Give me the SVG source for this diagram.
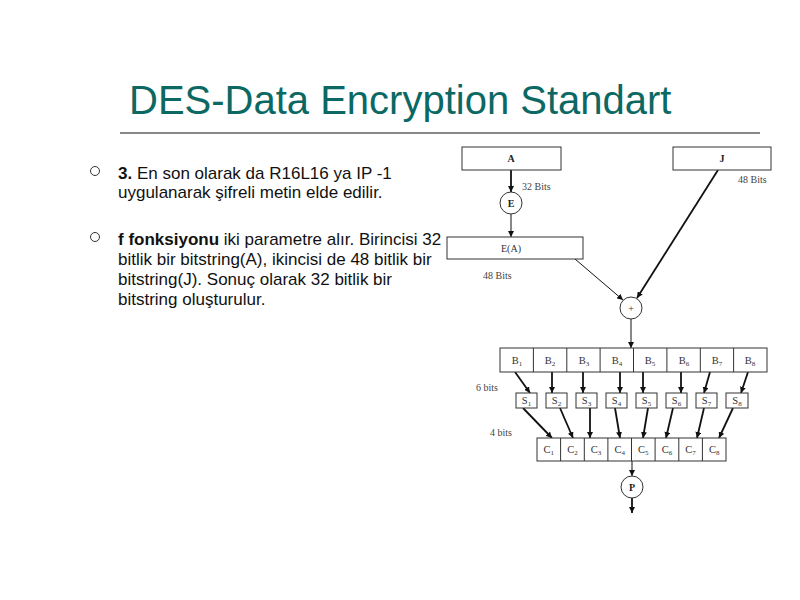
<svg xmlns="http://www.w3.org/2000/svg" width="800" height="600" viewBox="0 0 800 600">
<defs>
<style>
.title{font-family:"Liberation Sans",Arial,sans-serif;font-size:40px;fill:#0b6863}
.body{font-family:"Liberation Sans",Arial,sans-serif;font-size:17px;fill:#111}
.b{font-weight:bold}
.box{fill:#fff;stroke:#333;stroke-width:1}
.lbl{font-family:"Liberation Serif","Times New Roman",serif;font-size:10px;fill:#333;text-anchor:middle}
.lblb{font-family:"Liberation Serif","Times New Roman",serif;font-size:10px;fill:#222;text-anchor:middle;font-weight:bold}
.cell{font-family:"Liberation Serif","Times New Roman",serif;font-size:10.5px;fill:#333;text-anchor:middle}
.sub{font-size:7px}
.note{font-family:"Liberation Serif","Times New Roman",serif;font-size:10px;fill:#444}
.c{stroke:#111;fill:none;marker-end:url(#ah)}
.t{stroke-width:1}
.k{stroke-width:1.8}
</style>
<marker id="ah" viewBox="0 0 10 10" refX="10" refY="5" markerWidth="6" markerHeight="6" markerUnits="userSpaceOnUse" orient="auto"><path d="M0,0 L10,5 L0,10 z" fill="#111"/></marker>
</defs>
<rect width="800" height="600" fill="#fff"/>

<g id="title">
<text class="title" x="129" y="114">DES-Data Encryption Standart</text>
<line x1="120" y1="133" x2="760" y2="133" stroke="#111" stroke-width="1"/>
</g>

<g id="bullets">
<circle cx="95" cy="171" r="4.5" fill="none" stroke="#333" stroke-width="1"/>
<text class="body" x="118" y="179"><tspan class="b">3.</tspan> En son olarak da R16L16 ya IP -1</text>
<text class="body" x="118" y="198">uygulanarak şifreli metin elde edilir.</text>
<circle cx="95" cy="237" r="4.5" fill="none" stroke="#333" stroke-width="1"/>
<text class="body" x="118" y="245"><tspan class="b">f fonksiyonu</tspan> iki parametre alır. Birincisi 32</text>
<text class="body" x="118" y="265">bitlik bir bitstring(A), ikincisi de 48 bitlik bir</text>
<text class="body" x="118" y="285">bitstring(J). Sonuç olarak 32 bitlik bir</text>
<text class="body" x="118" y="305">bitstring oluşturulur.</text>
</g>

<g id="connectors">
<line class="c k" x1="511" y1="170" x2="511" y2="192"/>
<line class="c t" x1="511" y1="214" x2="511" y2="237"/>
<line class="c t" x1="575" y1="259" x2="623" y2="300"/>
<line class="c k" x1="718" y1="170" x2="637" y2="298"/>
<line class="c t" x1="631" y1="319" x2="631" y2="348"/>
<line class="c k" x1="515" y1="372" x2="530" y2="393"/>
<line class="c k" x1="552" y1="372" x2="552" y2="393"/>
<line class="c k" x1="583" y1="372" x2="583" y2="393"/>
<line class="c k" x1="620" y1="372" x2="620" y2="393"/>
<line class="c k" x1="643" y1="372" x2="643" y2="393"/>
<line class="c k" x1="681" y1="372" x2="681" y2="393"/>
<line class="c k" x1="710" y1="372" x2="704" y2="393"/>
<line class="c k" x1="748" y1="372" x2="741" y2="393"/>
<line class="c k" x1="523" y1="408" x2="552" y2="438"/>
<line class="c k" x1="560" y1="408" x2="573" y2="438"/>
<line class="c k" x1="590" y1="408" x2="590" y2="438"/>
<line class="c k" x1="615" y1="408" x2="620" y2="438"/>
<line class="c k" x1="648" y1="408" x2="643" y2="438"/>
<line class="c k" x1="673" y1="408" x2="666" y2="438"/>
<line class="c k" x1="704" y1="408" x2="697" y2="438"/>
<line class="c k" x1="733" y1="408" x2="719" y2="438"/>
<line class="c t" x1="632" y1="461" x2="632" y2="476"/>
<line class="c k" x1="632" y1="498" x2="632" y2="513"/>
</g>

<g id="labels">
<text class="note" x="522" y="190">32 Bits</text>
<text class="note" x="738" y="183">48 Bits</text>
<text class="note" x="483" y="279">48 Bits</text>
<text class="note" x="476" y="391">6 bits</text>
<text class="note" x="490" y="436">4 bits</text>
</g>

<g id="node-A"><rect class="box" x="462" y="147" width="99" height="23"/><text class="lblb" x="511" y="162">A</text></g>
<g id="node-J"><rect class="box" x="673" y="147" width="98" height="23"/><text class="lblb" x="722" y="162">J</text></g>
<g id="node-E"><circle class="box" cx="511" cy="203" r="11"/><text class="lblb" x="511" y="206.5">E</text></g>
<g id="node-EA"><rect class="box" x="447" y="237" width="136" height="22"/><text class="lbl" x="511" y="251.5">E(A)</text></g>
<g id="node-xor"><circle class="box" cx="631" cy="308" r="11"/><text class="lbl" x="631" y="311.5">+</text></g>

<g id="node-B">
<rect class="box" x="500" y="348" width="267" height="24"/>
<path d="M533.4 348V372M566.8 348V372M600.1 348V372M633.5 348V372M666.9 348V372M700.3 348V372M733.6 348V372" stroke="#333" stroke-width="1"/>
<text class="cell" x="517" y="364">B<tspan class="sub" dy="2">1</tspan></text>
<text class="cell" x="550" y="364">B<tspan class="sub" dy="2">2</tspan></text>
<text class="cell" x="584" y="364">B<tspan class="sub" dy="2">3</tspan></text>
<text class="cell" x="617" y="364">B<tspan class="sub" dy="2">4</tspan></text>
<text class="cell" x="650" y="364">B<tspan class="sub" dy="2">5</tspan></text>
<text class="cell" x="684" y="364">B<tspan class="sub" dy="2">6</tspan></text>
<text class="cell" x="717" y="364">B<tspan class="sub" dy="2">7</tspan></text>
<text class="cell" x="750" y="364">B<tspan class="sub" dy="2">8</tspan></text>
</g>

<g id="node-S">
<rect class="box" x="516" y="393" width="21" height="15"/><text class="cell" x="526.5" y="404">S<tspan class="sub" dy="2">1</tspan></text>
<rect class="box" x="546" y="393" width="21" height="15"/><text class="cell" x="556.5" y="404">S<tspan class="sub" dy="2">2</tspan></text>
<rect class="box" x="576" y="393" width="21" height="15"/><text class="cell" x="586.5" y="404">S<tspan class="sub" dy="2">3</tspan></text>
<rect class="box" x="606" y="393" width="21" height="15"/><text class="cell" x="616.5" y="404">S<tspan class="sub" dy="2">4</tspan></text>
<rect class="box" x="636" y="393" width="21" height="15"/><text class="cell" x="646.5" y="404">S<tspan class="sub" dy="2">5</tspan></text>
<rect class="box" x="666" y="393" width="21" height="15"/><text class="cell" x="676.5" y="404">S<tspan class="sub" dy="2">6</tspan></text>
<rect class="box" x="696" y="393" width="21" height="15"/><text class="cell" x="706.5" y="404">S<tspan class="sub" dy="2">7</tspan></text>
<rect class="box" x="726" y="393" width="22" height="15"/><text class="cell" x="737" y="404">S<tspan class="sub" dy="2">8</tspan></text>
</g>

<g id="node-C">
<rect class="box" x="537" y="438" width="189" height="23"/>
<path d="M560.6 438V461M584.3 438V461M607.9 438V461M631.5 438V461M655.1 438V461M678.8 438V461M702.4 438V461" stroke="#333" stroke-width="1"/>
<text class="cell" x="548.8" y="453">C<tspan class="sub" dy="2">1</tspan></text>
<text class="cell" x="572.4" y="453">C<tspan class="sub" dy="2">2</tspan></text>
<text class="cell" x="596.1" y="453">C<tspan class="sub" dy="2">3</tspan></text>
<text class="cell" x="619.7" y="453">C<tspan class="sub" dy="2">4</tspan></text>
<text class="cell" x="643.3" y="453">C<tspan class="sub" dy="2">5</tspan></text>
<text class="cell" x="667" y="453">C<tspan class="sub" dy="2">6</tspan></text>
<text class="cell" x="690.6" y="453">C<tspan class="sub" dy="2">7</tspan></text>
<text class="cell" x="714.2" y="453">C<tspan class="sub" dy="2">8</tspan></text>
</g>

<g id="node-P"><circle class="box" cx="632" cy="487" r="11"/><text class="lblb" x="632" y="490.5">P</text></g>
</svg>
